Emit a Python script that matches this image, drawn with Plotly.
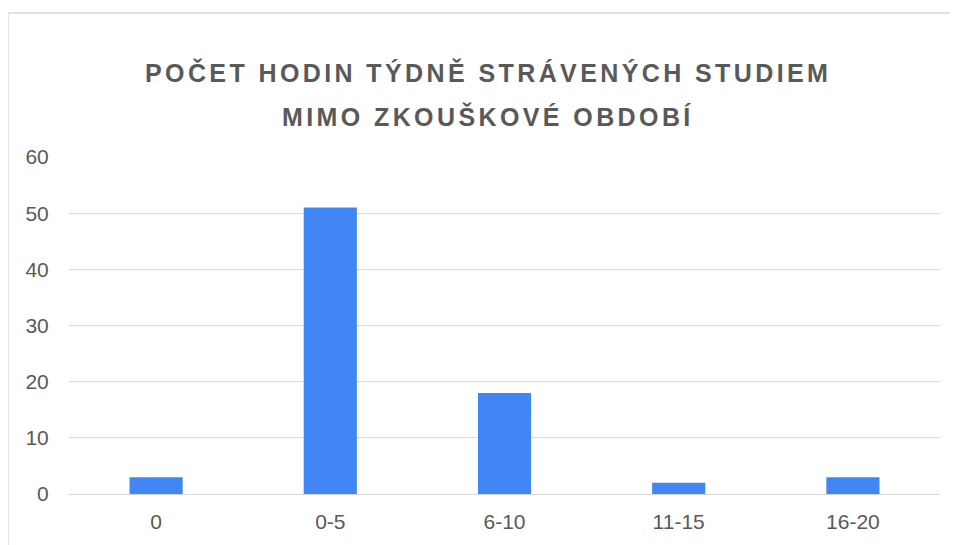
import plotly.graph_objects as go

categories = ["0", "0-5", "6-10", "11-15", "16-20"]
values = [3, 51, 18, 2, 3]
y_ticks = [0, 10, 20, 30, 40, 50, 60]
title_lines = ["POČET HODIN TÝDNĚ STRÁVENÝCH STUDIEM", "MIMO ZKOUŠKOVÉ OBDOBÍ"]

# page body has an 8px margin, so figure coords = page coords - 8
OFF = 8
W, H = 950, 537
L, R, T, B = 69 - OFF, 18, 157 - OFF, 545 - 494
pw, ph = W - L - R, H - T - B

def px_x(px):
    return (px - OFF - L) / pw

def px_y(py):
    return (H - B - (py - OFF)) / ph

fig = go.Figure(go.Bar(
    x=categories, y=values,
    marker=dict(color="#4285f4", line=dict(width=0)),
    hoverinfo="x+y",
))

title_font = dict(family="Liberation Sans, Arial, sans-serif", size=25, color="#595959", weight="bold")
annotations = []
for line, ypx in zip(title_lines, [72, 117]):
    annotations.append(dict(
        text='<span style="letter-spacing:3.4px">' + line + '</span>',
        x=px_x(488), y=px_y(ypx), xref="paper", yref="paper",
        xanchor="center", yanchor="middle", showarrow=False, font=title_font,
    ))

# chart container border: left and top edges only (others are outside the view)
bx0, bx1 = px_x(8), px_x(1000)
by0, by1 = px_y(700), px_y(13)
border_path = f"M {bx0},{by0} L {bx0},{by1} L {bx1},{by1}"

fig.update_layout(
    width=W, height=H,
    margin=dict(l=L, r=R, t=T, b=B, pad=0),
    paper_bgcolor="white", plot_bgcolor="white",
    bargap=0.695,
    showlegend=False,
    annotations=annotations,
    font=dict(family="Liberation Sans, Arial, sans-serif", size=21, color="#595959"),
    xaxis=dict(
        showgrid=False, showline=False, zeroline=False,
        ticks="outside", ticklen=9, tickcolor="rgba(0,0,0,0)",
        tickfont=dict(size=21, color="#595959"),
    ),
    yaxis=dict(
        range=[0, 60], tickvals=y_ticks, showgrid=True, gridcolor="#d9d9d9", gridwidth=1,
        zeroline=True, zerolinecolor="#d9d9d9", zerolinewidth=1, showline=False,
        ticks="outside", ticklen=15, tickcolor="rgba(0,0,0,0)",
        tickfont=dict(size=21, color="#595959"),
    ),
    shapes=[dict(
        type="path", xref="paper", yref="paper", path=border_path,
        line=dict(color="#d9d9d9", width=1.5), layer="below",
    )],
)

fig.write_html("out.html")
